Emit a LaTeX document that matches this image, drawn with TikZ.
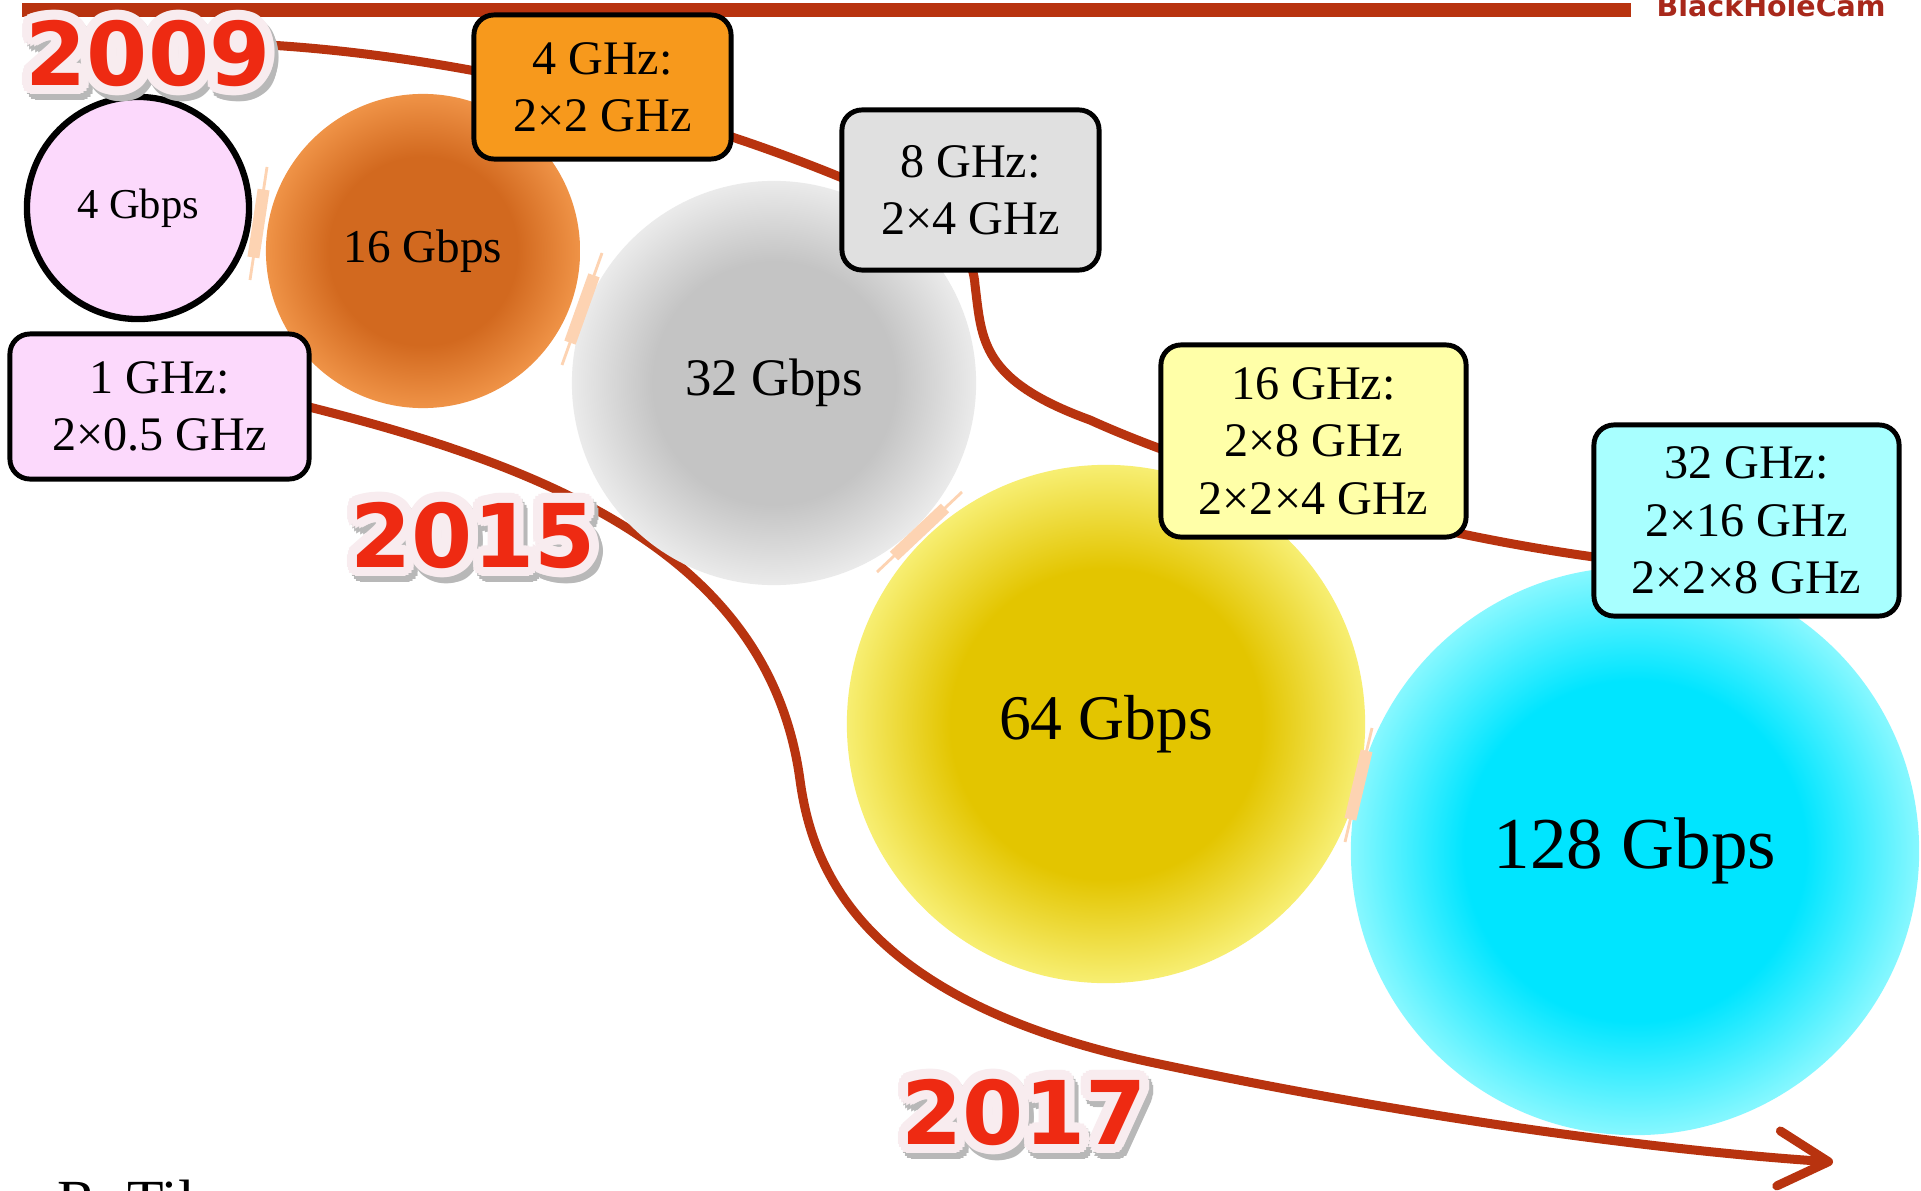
\documentclass[tikz,border=0pt]{standalone}
\usepackage{fontspec}
\setmainfont{Liberation Serif}
\newfontfamily\yearfont{DejaVu Sans}
\usepackage{tikz}
\usetikzlibrary{arrows.meta,calc}
\definecolor{trail}{HTML}{B8330F}
\definecolor{brand}{HTML}{A8281B}
\definecolor{yearred}{HTML}{EE2A12}
\definecolor{halo}{HTML}{F8ECEF}
\definecolor{pinkfill}{HTML}{FCD9FC}
\definecolor{orangefill}{HTML}{F7991C}
\definecolor{greyfill}{HTML}{E0E0E0}
\definecolor{yellowfill}{HTML}{FFFFA8}
\definecolor{cyanfill}{HTML}{A8FFFF}
\definecolor{hopfill}{HTML}{FDD3B2}
\definecolor{orangecore}{HTML}{D2691F}
\definecolor{orangerim}{HTML}{FBA457}
\definecolor{greycore}{HTML}{C4C4C4}
\definecolor{greyrim}{HTML}{FAFAFA}
\definecolor{goldcore}{HTML}{E3C500}
\definecolor{goldrim}{HTML}{FFFFA0}
\definecolor{cyancore}{HTML}{00E5FF}
\definecolor{cyanrim}{HTML}{BDFFFF}
\colorlet{glowin}{white}
\colorlet{glowout}{white}
% the shading box is fitted round the circle's bounding box: 35.4bp is the rim
\pgfdeclareradialshading[glowin,glowout]{glow}{\pgfpoint{0bp}{0bp}}{%
  color(0bp)=(glowin); color(15bp)=(glowin); color(29bp)=(glowout); color(50bp)=(glowout)}

\begin{document}
\begin{tikzpicture}[x=0.01cm,y=-0.01cm,
  rate/.style={draw=black,line width=1.4pt,rounded corners=0.2cm,align=center,inner sep=0pt,
               font=\fontsize{13.7}{16.3}\selectfont},
  ball/.style 2 args={circle,inner sep=0pt,shading=glow,
               /utils/exec={\colorlet{glowin}{#1}\colorlet{glowout}{#2}}},
  trailline/.style={draw=trail,line width=0.09cm},
  hopline/.style={draw=hopfill,line width=0.8pt},
  hopbody/.style={draw=hopfill,line width=3.4pt},
  yeartext/.style={inner sep=0pt,font=\yearfont\bfseries\fontsize{25}{27}\selectfont}]
  \useasboundingbox (0,0) rectangle (1921,1191);
  \fill[white] (0,0) rectangle (1921,1191);
  % header
  \fill[trail] (22,3) rectangle (1631,17);
  \node[anchor=base west,inner sep=0pt,text=brand,
        font=\yearfont\bfseries\fontsize{8.1}{9}\selectfont] (brand) at (1656,17) {BlackHoleCam};
  % time lines
  \draw[trailline] (250,44) .. controls (420,52) and (640,95) .. (840,177)
        .. controls (930,214) and (972,240) .. (975,285)
        .. controls (982,340) and (980,380) .. (1090,420)
        .. controls (1200,470) and (1400,530) .. (1594,557);
  \draw[trailline,-{Straight Barb[length=5mm,width=5.5mm,round]}]
        (309,407) .. controls (560,470) and (770,560) .. (800,780)
        .. controls (812,868) and (860,1000) .. (1150,1062)
        .. controls (1400,1115) and (1650,1150) .. (1833,1162);
  % data rates
  \node[circle,draw=black,line width=1.8pt,fill=pinkfill,minimum size=2.22cm,
        font=\fontsize{12.1}{14}\selectfont] (c4) at (138,208) {4 Gbps};
  \node[ball={orangecore}{orangerim},minimum size=3.14cm,
        font=\fontsize{13.4}{15}\selectfont] (c16) at (423,251) {16 Gbps};
  \node[ball={greycore}{greyrim},minimum size=4.04cm,
        font=\fontsize{15}{17}\selectfont] (c32) at (774,383) {32 Gbps};
  \node[ball={goldcore}{goldrim},minimum size=5.18cm,
        font=\fontsize{18.1}{20}\selectfont] (c64) at (1106,724) {64 Gbps};
  \node[ball={cyancore}{cyanrim},minimum size=5.68cm,
        font=\fontsize{20.8}{23}\selectfont] (c128) at (1635,851) {128 Gbps};
  % small hops between the rates
  \coordinate (hs1) at (267,167);  \coordinate (he1) at (250,280);
  \coordinate (hs2) at (602,253);  \coordinate (he2) at (562,365);
  \coordinate (hs3) at (962,492);  \coordinate (he3) at (877,572);
  \coordinate (hs4) at (1372,728); \coordinate (he4) at (1345,842);
  \foreach \i in {1,...,4}{
    \draw[hopline] (hs\i) -- (he\i);
    \draw[hopbody] ($(hs\i)!0.2!(he\i)$) -- ($(hs\i)!0.8!(he\i)$);
  }
  % bandwidths
  \node[rate,fill=pinkfill,minimum width=2.99cm,minimum height=1.45cm] (b1) at (159.5,406.5)
       {1 GHz:\\2×0.5 GHz};
  \node[rate,fill=orangefill,minimum width=2.57cm,minimum height=1.44cm] (b4) at (602.5,87)
       {4 GHz:\\2×2 GHz};
  \node[rate,fill=greyfill,minimum width=2.57cm,minimum height=1.6cm] (b8) at (970.5,190)
       {8 GHz:\\2×4 GHz};
  \node[rate,fill=yellowfill,minimum width=3.05cm,minimum height=1.92cm] (b16) at (1313.5,441)
       {16 GHz:\\2×8 GHz\\2×2×4 GHz};
  \node[rate,fill=cyanfill,minimum width=3.05cm,minimum height=1.91cm] (b32) at (1746.5,520.5)
       {32 GHz:\\2×16 GHz\\2×2×8 GHz};
  % years
  \coordinate (p2009) at (148,53);
  \coordinate (p2015) at (473,535);
  \coordinate (p2017) at (1024,1112);
  \foreach \yr in {2009,2015,2017}{
    \foreach \a in {0,20,...,340}
      \node[yeartext,text=black!28,xshift=1.2pt,yshift=-1.6pt] at ([shift={(\a:10)}]p\yr) {\yr};
    \foreach \a in {0,20,...,340}
      \node[yeartext,text=halo] at ([shift={(\a:10)}]p\yr) {\yr};
    \node[yeartext,text=yearred] (y\yr) at (p\yr) {\yr};
  }
  \node[anchor=base west,inner sep=0pt,font=\fontsize{17}{19}\selectfont] (author) at (57,1221) {R. Til};
\end{tikzpicture}
\end{document}
